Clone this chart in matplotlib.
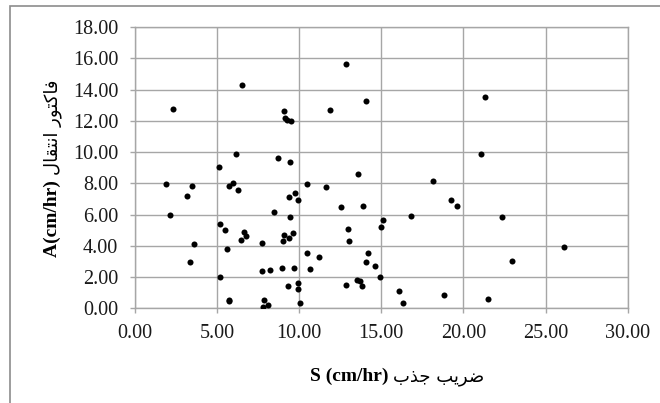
import matplotlib
matplotlib.use('Agg')
import matplotlib.pyplot as plt
from matplotlib.patches import Rectangle

plt.rcParams['font.family'] = ['Liberation Serif', 'DejaVu Sans']

# S (cm/hr) vs A (cm/hr)
s_vals = [1.87, 2.15, 2.33, 3.14, 3.45, 3.36, 3.62, 5.13, 5.18, 5.46,
          5.19, 5.62, 5.70, 5.74, 5.74, 5.98, 6.15, 6.25, 6.49, 6.43,
          6.65, 6.78, 7.73, 7.73, 8.20, 7.84, 7.81, 8.10, 8.49, 8.72,
          8.97, 9.01, 9.07, 9.07, 9.13, 9.27, 9.51, 9.43, 9.43, 9.35,
          9.61, 9.66, 9.31, 9.90, 9.94, 10.07, 9.39, 9.77, 9.92, 10.48,
          11.66, 10.49, 10.66, 11.23, 11.89, 12.88, 14.06, 12.54, 13.89, 13.59,
          12.95, 13.06, 12.88, 13.54, 13.70, 13.82, 14.18, 14.05, 14.60, 14.92,
          15.00, 15.13, 16.06, 16.35, 16.82, 18.12, 18.81, 19.24, 19.58, 21.10,
          21.32, 21.52, 22.34, 22.93, 26.15]
a_vals = [7.97, 5.97, 12.75, 7.16, 7.84, 2.98, 4.11, 9.04, 5.37, 5.04,
          2.00, 3.80, 0.55, 0.49, 7.84, 8.04, 9.87, 7.55, 14.29, 4.36,
          4.87, 4.63, 4.18, 2.39, 2.45, 0.52, 0.08, 0.19, 6.15, 9.64,
          2.56, 4.31, 4.67, 12.60, 12.19, 12.05, 12.00, 9.38, 5.85, 4.48,
          4.85, 2.56, 1.44, 1.63, 1.25, 0.33, 7.12, 7.38, 6.95, 7.97,
          7.78, 3.57, 2.51, 3.27, 12.71, 15.65, 13.24, 6.46, 6.54, 8.59,
          5.09, 4.31, 1.50, 1.83, 1.75, 1.45, 3.57, 2.99, 2.70, 2.00,
          5.22, 5.64, 1.13, 0.32, 5.91, 8.16, 0.88, 6.92, 6.54, 9.87,
          13.50, 0.58, 5.84, 3.00, 3.94]

x_ticks = [0, 5, 10, 15, 20, 25, 30]
y_ticks = [0, 2, 4, 6, 8, 10, 12, 14, 16, 18]

# Persian words written in visual order with presentation forms
# (matplotlib does no Arabic shaping / bidi on its own)
fa_enteghal = '\uFEDD\uFE8E\uFED8\uFE98\uFEE7\uFE8D'   # انتقال
fa_factor = '\uFEAD\uFEEE\uFE98\uFB90\uFE8E\uFED3'     # فاکتور
fa_jazb = '\uFE8F\uFEAC\uFE9F'                          # جذب
fa_zarib = '\uFE90\uFBFE\uFEAE\uFEBF'                   # ضریب

x_unit = 'S (cm/hr) '
x_fa = fa_jazb + ' ' + fa_zarib
y_unit = 'A(cm/hr) '
y_fa = fa_enteghal + ' ' + fa_factor

W, H = 660, 403
grid_c = '#a6a6a6'

fig = plt.figure(figsize=(W / 100, H / 100), dpi=100)
ax = fig.add_axes([0.2045, 0.235, 0.7465, 0.698])

# outer chart border
fig.patches.append(Rectangle((10 / W, -0.2), 1.2, 1 - 6 / H + 0.2,
                             transform=fig.transFigure, fill=False,
                             edgecolor='#8c8c8c', lw=1.2, zorder=0))

ax.scatter(s_vals, a_vals, s=19, color='black', zorder=3, linewidths=0)

ax.set_xlim(0, 30)
ax.set_ylim(0, 18)
ax.set_xticks(x_ticks)
ax.set_yticks(y_ticks)
ax.set_xticklabels([f'{v:.2f}' for v in x_ticks])
ax.set_yticklabels([f'{v:.2f}' for v in y_ticks])
ax.tick_params(axis='both', direction='out', length=3.5, color=grid_c,
               width=1, labelsize=14.5, labelcolor='#1a1a1a')
ax.tick_params(axis='y', pad=8.5)
ax.tick_params(axis='x', pad=8)
ax.grid(True, color=grid_c, lw=1)
ax.set_axisbelow(True)
for sp in ax.spines.values():
    sp.set_color(grid_c)
    sp.set_linewidth(1)

# axis titles: bold latin part + regular persian part, placed side by side
r = fig.canvas.get_renderer()

xt1 = fig.text(0, 0, x_unit, fontsize=14, fontweight='bold', va='baseline')
xt2 = fig.text(0, 0, x_fa, fontsize=13, family='DejaVu Sans', va='baseline')
w1 = xt1.get_window_extent(r).width
w2 = xt2.get_window_extent(r).width
left = 397 - (w1 + w2) / 2
xt1.set_position((left / W, 1 - 381 / H))
xt2.set_position(((left + w1) / W, 1 - 381 / H))

yt1 = fig.text(0, 0, y_unit, fontsize=14, fontweight='bold', rotation=90,
               rotation_mode='anchor', ha='left', va='baseline')
yt2 = fig.text(0, 0, y_fa, fontsize=13, family='DejaVu Sans', rotation=90,
               rotation_mode='anchor', ha='left', va='baseline')
h1 = yt1.get_window_extent(r).height
h2 = yt2.get_window_extent(r).height
bottom = 168 + (h1 + h2) / 2
yt1.set_position((57 / W, 1 - bottom / H))
yt2.set_position((57 / W, 1 - (bottom - h1) / H))

plt.savefig('out.png', dpi=100)
